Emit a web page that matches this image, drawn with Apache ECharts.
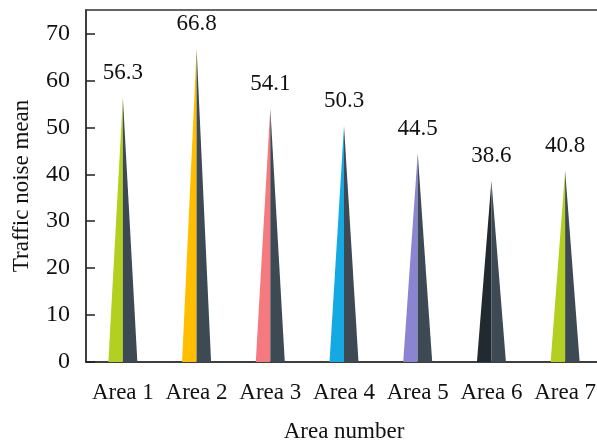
<!DOCTYPE html>
<html><head><meta charset="utf-8">
<script src="https://cdn.jsdelivr.net/npm/echarts@6/dist/echarts.min.js"></script>
<style>html,body{margin:0;padding:0;background:#fff}#c{width:597px;height:443px}</style>
</head><body><div id="c"></div>
<script>
const categories = ['Area 1','Area 2','Area 3','Area 4','Area 5','Area 6','Area 7'];
const values = [56.3, 66.8, 54.1, 50.3, 44.5, 38.6, 40.8];
const leftColors = ['#b3cf1f','#ffbf00','#f47a80','#15a9e3','#8a84d2','#222a31','#b3cf1f'];
const shadeColor = '#3d4a53';
const yTicks = {min: 0, max: 75, interval: 10};

const chart = echarts.init(document.getElementById('c'), null, {renderer: 'canvas'});
const font = '"Liberation Serif", "Times New Roman", serif';
chart.setOption({
  animation: false,
  grid: {left: 86, top: 10, width: 516, bottom: 81, containLabel: false, outerBoundsMode: 'none',
    show: true, borderColor: '#333', borderWidth: 1.5, backgroundColor: 'transparent'},
  xAxis: {
    type: 'category', data: categories,
    name: 'Area number', nameLocation: 'middle', nameGap: 58,
    nameTextStyle: {fontFamily: font, fontSize: 23, color: '#111'},
    axisLine: {lineStyle: {color: '#333', width: 1.5}},
    axisTick: {inside: true, length: 9, lineStyle: {color: '#222', width: 1.5}},
    axisLabel: {fontFamily: font, fontSize: 23, color: '#111', margin: 19, interval: 0, hideOverlap: false}
  },
  yAxis: {
    type: 'value', min: yTicks.min, max: yTicks.max, interval: yTicks.interval,
    name: 'Traffic noise mean', nameLocation: 'middle', nameGap: 53,
    nameTextStyle: {fontFamily: font, fontSize: 23, color: '#111'},
    axisLine: {show: true, lineStyle: {color: '#333', width: 1.5}},
    axisTick: {show: true, inside: true, length: 9, lineStyle: {color: '#222', width: 1.5}},
    axisLabel: {fontFamily: font, fontSize: 24, color: '#111', margin: 16,
      showMaxLabel: false},
    splitLine: {show: false}
  },
  series: [
    {
      type: 'pictorialBar', barGap: '-100%', barCategoryGap: '0%',
      symbol: 'path://M0,1 L1,0 L1,1 Z',
      symbolSize: [14.5, '100%'], symbolOffset: ['-50%', 0],
      data: values.map((v, i) => ({value: v, itemStyle: {color: leftColors[i]}})),
      z: 3
    },
    {
      type: 'pictorialBar', barGap: '-100%', barCategoryGap: '0%',
      symbol: 'path://M0,0 L1,1 L0,1 Z',
      symbolSize: [14.5, '100%'], symbolOffset: ['50%', 0],
      itemStyle: {color: shadeColor},
      label: {show: true, position: 'top', distance: 13, fontFamily: font, fontSize: 23, color: '#111'},
      data: values,
      z: 3
    }
  ]
});
</script></body></html>
